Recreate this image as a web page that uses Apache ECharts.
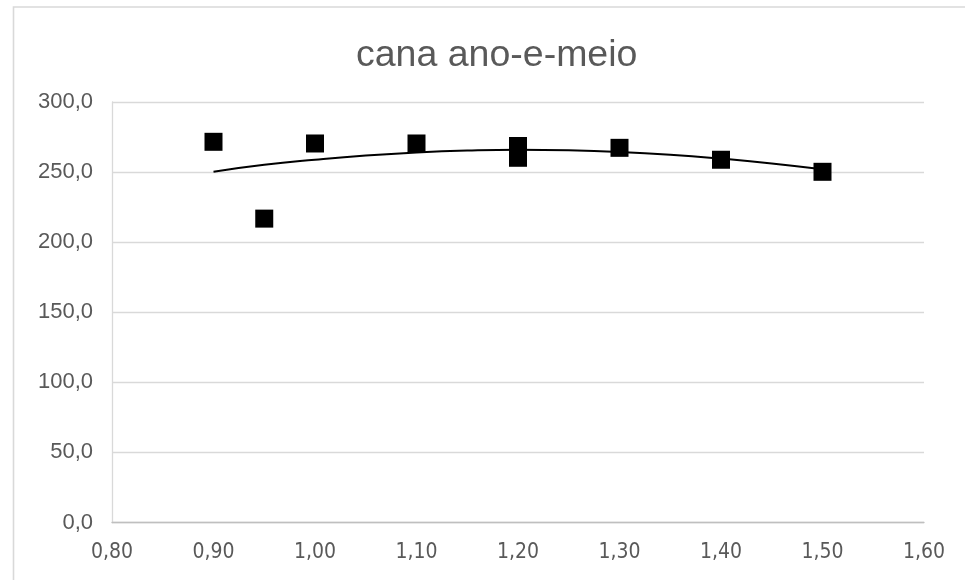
<!DOCTYPE html>
<html>
<head>
<meta charset="utf-8">
<script src="https://cdn.jsdelivr.net/npm/echarts@6/dist/echarts.min.js"></script>
<style>
html,body{margin:0;padding:0;background:#fff;}
#chart{width:965px;height:580px;}
</style>
</head>
<body>
<div id="chart"></div>
<script>
const titleText = 'cana ano-e-meio';
const pointX = [0.90, 0.95, 1.00, 1.10, 1.20, 1.20, 1.30, 1.40, 1.50];
const pointY = [271.6, 216.8, 270.4, 270.4, 268.6, 260.2, 267.3, 258.8, 250.2];
const trendX = [0.90, 0.95, 1.00, 1.05, 1.10, 1.15, 1.20, 1.25, 1.30, 1.35, 1.40, 1.45, 1.50];
const trendY = [250.3, 255.2, 258.8, 261.8, 264.0, 265.4, 266.0, 265.6, 264.4, 262.4, 259.6, 256.2, 252.0];
const xMin = 0.8, xMax = 1.6, xStep = 0.1;
const yMin = 0, yMax = 300, yStep = 50;

const chart = echarts.init(document.getElementById('chart'));
chart.setOption({
  animation: false,
  backgroundColor: '#ffffff',
  title: {
    text: titleText,
    left: 351,
    top: 32,
    textStyle: {fontFamily: 'Liberation Sans', fontSize: 37.5, fontWeight: 'normal', color: '#595959'}
  },
  graphic: [{
    type: 'rect',
    shape: {x: 13.5, y: 7, width: 1000, height: 1000},
    style: {fill: 'none', stroke: '#d9d9d9', lineWidth: 1.6},
    silent: true
  }],
  grid: {left: 112, right: 41, top: 102, bottom: 57.5},
  xAxis: {
    type: 'value', min: xMin, max: xMax, interval: xStep,
    axisLine: {show: true, onZero: false, lineStyle: {color: '#bfbfbf', width: 1.3}},
    axisTick: {show: false},
    splitLine: {show: false},
    axisLabel: {
      margin: 20,
      fontFamily: "'DejaVu Sans Condensed', 'Liberation Sans'", fontSize: 21, color: '#595959',
      formatter: v => v.toFixed(2).replace('.', ',')
    }
  },
  yAxis: {
    type: 'value', min: yMin, max: yMax, interval: yStep,
    axisLine: {show: true, lineStyle: {color: '#d9d9d9', width: 1.3}},
    axisTick: {show: false},
    splitLine: {show: true, lineStyle: {color: '#d9d9d9', width: 1.3}},
    axisLabel: {
      margin: 19,
      fontFamily: 'Liberation Sans', fontSize: 22, color: '#595959',
      padding: [6, 0, 0, 0],
      formatter: v => v.toFixed(1).replace('.', ',')
    }
  },
  series: [
    {
      type: 'line',
      data: trendX.map((x, i) => [x, trendY[i]]),
      smooth: true,
      showSymbol: false,
      symbol: 'none',
      lineStyle: {color: '#000000', width: 2},
      silent: true,
      z: 3
    },
    {
      type: 'scatter',
      data: pointX.map((x, i) => [x, pointY[i]]),
      symbol: 'rect',
      symbolSize: 18,
      itemStyle: {color: '#000000', opacity: 1},
      z: 4
    }
  ]
});
</script>
</body>
</html>
